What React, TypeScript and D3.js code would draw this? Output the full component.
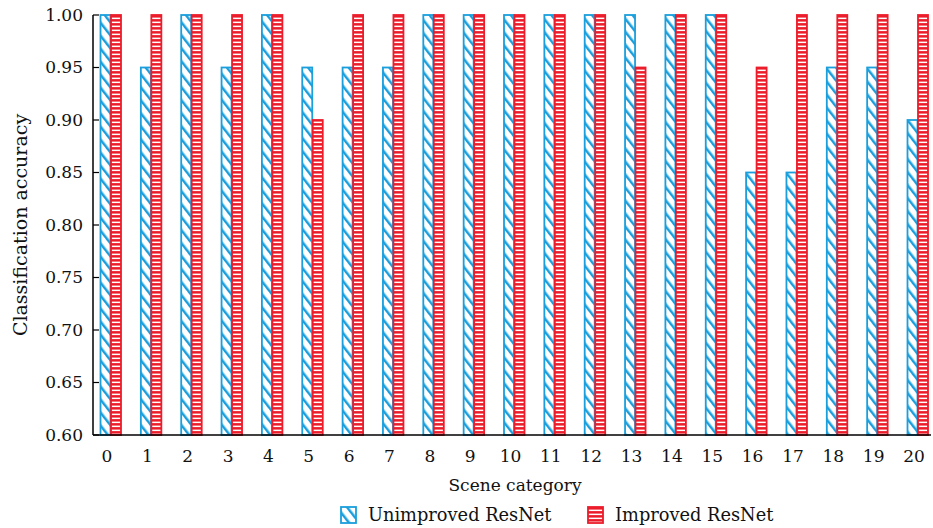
import React from 'react';
import * as d3 from 'd3';

const categories = d3.range(0, 21).map(String);
const unimproved = [1.0, 0.95, 1.0, 0.95, 1.0, 0.95, 0.95, 0.95, 1.0, 1.0, 1.0, 1.0, 1.0, 1.0, 1.0, 1.0, 0.85, 0.85, 0.95, 0.95, 0.9];
const improved = [1.0, 1.0, 1.0, 1.0, 1.0, 0.9, 1.0, 1.0, 1.0, 1.0, 1.0, 1.0, 1.0, 0.95, 1.0, 1.0, 0.95, 1.0, 1.0, 1.0, 1.0];
const yTicks = [0.6, 0.65, 0.7, 0.75, 0.8, 0.85, 0.9, 0.95, 1.0];

const BLUE = '#1a9fdc';
const RED = '#ec1c2a';
const FONT = '"DejaVu Serif", serif';

export default function App() {
  const width = 933, height = 528;
  const left = 93, right = 931, top = 15, bottom = 435;

  const x = d3.scalePoint<string>().domain(categories).range([109, 916]);
  const y = d3.scaleLinear().domain([0.6, 1.0]).range([bottom, top]);
  const barW = 10;

  return (
    <svg width={width} height={height} style={{ position: 'absolute', left: 0, top: 0, background: '#fff' }}>
      <defs>
        <pattern id="hatchBlue" patternUnits="userSpaceOnUse" width="8" height="8" patternTransform="rotate(-38)">
          <rect width="8" height="8" fill="#fff" />
          <line x1="0" y1="0" x2="0" y2="8" stroke={BLUE} strokeWidth="5" />
        </pattern>
        <pattern id="hatchRed" patternUnits="userSpaceOnUse" width="4" height="4">
          <rect width="4" height="4" fill={RED} />
          <rect x="0" y="1.6" width="4" height="1.5" fill="#fff" />
        </pattern>
      </defs>

      {/* bars */}
      {categories.map((c, i) => {
        const cx = x(c)!;
        return (
          <g key={c}>
            <rect x={cx - 8.5} y={y(unimproved[i])} width={barW} height={bottom - y(unimproved[i])}
              fill="url(#hatchBlue)" stroke={BLUE} strokeWidth={1.8} />
            <rect x={cx + 2} y={y(improved[i])} width={barW} height={bottom - y(improved[i])}
              fill="url(#hatchRed)" stroke={RED} strokeWidth={1.8} />
          </g>
        );
      })}

      {/* axes */}
      <line x1={left} x2={left} y1={top} y2={bottom} stroke="#000" strokeWidth={1.5} />
      <line x1={left} x2={right} y1={bottom} y2={bottom} stroke="#000" strokeWidth={1.5} />
      {yTicks.map(t => (
        <g key={t}>
          <line x1={left} x2={left + 6} y1={y(t)} y2={y(t)} stroke="#000" strokeWidth={1.2} />
          <text x={left - 10} y={y(t)} dy="0.35em" textAnchor="end" fontFamily={FONT} fontSize={17} fill="#111">
            {d3.format('.2f')(t)}
          </text>
        </g>
      ))}
      {categories.map(c => (
        <text key={c} x={x(c)! - 2} y={bottom + 27} textAnchor="middle" fontFamily={FONT} fontSize={17} fill="#111">{c}</text>
      ))}

      {/* axis titles */}
      <text transform={`translate(27,${(top + bottom) / 2}) rotate(-90)`} textAnchor="middle"
        fontFamily={FONT} fontSize={19} fill="#111">Classification accuracy</text>
      <text x={515} y={491} textAnchor="middle" fontFamily={FONT} fontSize={17} fill="#111">Scene category</text>

      {/* legend */}
      <g>
        <rect x={341} y={507} width={15} height={16} fill="url(#hatchBlue)" stroke={BLUE} strokeWidth={1.8} />
        <text x={368} y={521} fontFamily={FONT} fontSize={17.8} fill="#111">Unimproved ResNet</text>
        <rect x={588} y={507} width={15} height={16} fill="url(#hatchRed)" stroke={RED} strokeWidth={1.8} />
        <text x={615} y={521} fontFamily={FONT} fontSize={17.8} fill="#111">Improved ResNet</text>
      </g>
    </svg>
  );
}
